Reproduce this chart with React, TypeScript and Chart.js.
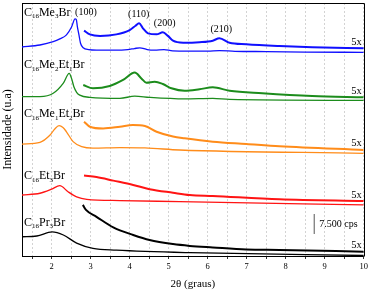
import React, { useEffect, useRef } from "react";
import { Chart, registerables } from "chart.js";

Chart.register(...registerables);

// ---- data (2θ in degrees, intensity in arbitrary stacked units) ----
const me3X = [1.24, 1.7, 2.04, 2.21, 2.38, 2.51, 2.6, 2.63, 2.66, 2.7, 2.74, 2.81, 2.95, 3.15, 3.6, 3.95, 4.12, 4.26, 4.45, 4.64, 4.88, 5.1, 5.5, 6.0, 6.3, 6.7, 7.5, 8.5, 10];
const me3Y = [82.6, 83.4, 84.7, 85.8, 87.4, 90.5, 93.7, 93.5, 90.6, 87.4, 84.1, 82.3, 81.6, 81.4, 81.4, 81.6, 82.0, 82.3, 81.6, 81.4, 81.6, 81.1, 81.0, 81.0, 81.2, 80.9, 80.8, 80.6, 80.5];
const me3X5 = [2.83, 2.98, 3.24, 3.66, 4.0, 4.15, 4.24, 4.34, 4.47, 4.69, 4.85, 4.98, 5.11, 5.37, 5.79, 6.13, 6.3, 6.56, 6.99, 7.84, 8.68, 10];
const me3Y5 = [89.1, 87.6, 87.0, 87.6, 89.3, 91.0, 92.0, 90.0, 88.0, 87.6, 88.4, 87.0, 85.1, 84.3, 84.5, 85.1, 86.1, 84.3, 83.7, 83.0, 82.5, 82.1];

const me2et1X = [1.24, 1.7, 2.04, 2.3, 2.45, 2.51, 2.57, 2.64, 2.72, 2.98, 3.75, 4.13, 4.51, 5.41, 6.13, 6.56, 10];
const me2et1Y = [63.0, 63.0, 64.3, 68.3, 72.2, 70.2, 66.9, 64.7, 63.6, 62.7, 62.3, 63.2, 62.7, 62.1, 62.3, 61.9, 61.5];
const me2et1X5 = [2.81, 3.06, 3.49, 3.83, 4.13, 4.3, 4.43, 4.64, 4.85, 5.07, 5.41, 5.79, 6.13, 6.56, 7.4, 8.68, 10];
const me2et1Y5 = [67.6, 66.3, 67.2, 69.6, 72.5, 70.2, 68.5, 68.9, 68.0, 66.3, 65.3, 65.9, 66.7, 65.3, 64.3, 63.2, 62.7];

const me1et2X = [1.24, 1.7, 1.96, 2.08, 2.19, 2.29, 2.38, 2.55, 2.77, 3.06, 3.75, 4.39, 5.28, 10];
const me1et2Y = [44.2, 44.9, 47.8, 50.2, 51.5, 50.8, 49.1, 45.2, 43.2, 42.6, 42.8, 42.7, 41.9, 40.6];
const me1et2X5 = [2.83, 2.98, 3.32, 3.75, 4.08, 4.39, 4.69, 5.11, 5.41, 6.13, 6.99, 7.84, 10];
const me1et2Y5 = [53.1, 51.1, 50.4, 51.1, 51.8, 51.4, 49.1, 47.2, 46.5, 45.2, 44.3, 43.4, 41.9];

const et3X = [1.24, 1.7, 2.0, 2.21, 2.42, 2.64, 2.9, 3.75, 5.28, 10];
const et3Y = [24.1, 24.8, 26.4, 27.8, 25.4, 23.4, 22.4, 21.9, 21.5, 20.2];
const et3X5 = [2.83, 3.15, 3.58, 4.09, 4.51, 5.11, 5.54, 6.13, 7.84, 10];
const et3Y5 = [31.8, 31.2, 29.8, 28.1, 26.4, 25.0, 24.1, 23.7, 22.4, 21.7];

const pr3X = [1.24, 1.62, 2.01, 2.3, 2.64, 3.06, 3.66, 5.54, 10];
const pr3Y = [7.6, 7.9, 9.5, 8.3, 5.1, 3.0, 2.3, 1.3, 0.2];
const pr3X5 = [2.8, 2.88, 3.15, 3.58, 4.09, 4.51, 5.11, 5.54, 6.13, 6.99, 7.84, 10];
const pr3Y5 = [20.2, 18.2, 15.5, 11.3, 8.3, 6.3, 4.7, 4.0, 3.4, 2.6, 2.4, 1.7];

const scaleBarX = [8.73, 8.73];
const scaleBarY = [8.7, 16.6];

const xTickValues = [1.5, 2, 2.5, 3, 3.5, 4, 4.5, 5, 5.5, 6, 6.5, 7, 7.5, 8, 8.5, 9, 9.5, 10];

// ---- labels ----
type Seg = [string, boolean];
const sampleLabels: { segs: Seg[]; x: number; y: number }[] = [
  { segs: [["C", false], ["16", true], ["Me", false], ["3", true], ["Br", false]], x: 1.29, y: 94.9 },
  { segs: [["C", false], ["16", true], ["Me", false], ["2", true], ["Et", false], ["1", true], ["Br", false]], x: 1.29, y: 74.3 },
  { segs: [["C", false], ["16", true], ["Me", false], ["1", true], ["Et", false], ["2", true], ["Br", false]], x: 1.29, y: 54.9 },
  { segs: [["C", false], ["16", true], ["Et", false], ["3", true], ["Br", false]], x: 1.29, y: 30.4 },
  { segs: [["C", false], ["16", true], ["Pr", false], ["3", true], ["Br", false]], x: 1.29, y: 11.9 },
];
const peakLabels = [
  { text: "(100)", x: 2.6, y: 95.3 },
  { text: "(110)", x: 3.96, y: 94.5 },
  { text: "(200)", x: 4.62, y: 90.9 },
  { text: "(210)", x: 6.07, y: 88.5 },
];
const factorLabelY = [83.4, 64.0, 43.5, 22.9, 3.2];
const factorLabelX = 9.68;

const FONT = "'Liberation Serif', 'DejaVu Serif', serif";

const zip = (xs: number[], ys: number[]) => xs.map((x, i) => ({ x, y: ys[i] }));

const series = [
  { x: me3X, y: me3Y, x5: me3X5, y5: me3Y5, color: "#1010ff" },
  { x: me2et1X, y: me2et1Y, x5: me2et1X5, y5: me2et1Y5, color: "#1c8c1c" },
  { x: me1et2X, y: me1et2Y, x5: me1et2X5, y5: me1et2Y5, color: "#ff8c1a" },
  { x: et3X, y: et3Y, x5: et3X5, y5: et3Y5, color: "#ff1414" },
  { x: pr3X, y: pr3Y, x5: pr3X5, y5: pr3Y5, color: "#000000" },
];

const annotationPlugin = {
  id: "annotations",
  afterDatasetsDraw(chart: any) {
    const { ctx, scales } = chart;
    const xs = scales.x;
    const ys = scales.y;
    ctx.save();
    ctx.fillStyle = "#000";
    ctx.textBaseline = "alphabetic";
    ctx.textAlign = "left";
    for (const lab of sampleLabels) {
      let px = xs.getPixelForValue(lab.x);
      const py = ys.getPixelForValue(lab.y);
      for (const [t, sub] of lab.segs) {
        ctx.font = sub ? `7px ${FONT}` : `12px ${FONT}`;
        ctx.fillText(t, px, sub ? py + 2.5 : py);
        px += ctx.measureText(t).width;
      }
    }
    ctx.font = `10px ${FONT}`;
    for (const p of peakLabels) {
      ctx.fillText(p.text, xs.getPixelForValue(p.x), ys.getPixelForValue(p.y));
    }
    ctx.font = `10.5px ${FONT}`;
    for (const v of factorLabelY) {
      ctx.fillText("5x", xs.getPixelForValue(factorLabelX), ys.getPixelForValue(v));
    }
    ctx.font = `10px ${FONT}`;
    ctx.fillText("7.500 cps", xs.getPixelForValue(8.86), ys.getPixelForValue(11.5));
    const a = chart.chartArea;
    ctx.strokeStyle = "#000";
    ctx.lineWidth = 1;
    ctx.beginPath();
    ctx.moveTo(Math.round(a.left) + 0.5, Math.round(a.top) + 0.5);
    ctx.lineTo(Math.round(a.right) + 0.5, Math.round(a.top) + 0.5);
    ctx.lineTo(Math.round(a.right) + 0.5, Math.round(a.bottom) + 0.5);
    ctx.stroke();
    ctx.restore();
  },
};

export default function App() {
  const ref = useRef<HTMLCanvasElement | null>(null);
  useEffect(() => {
    document.body.style.margin = "0";
    if (!ref.current) return;
    const datasets: any[] = [];
    for (const s of series) {
      datasets.push({
        data: zip(s.x, s.y),
        borderColor: s.color,
        borderWidth: 1.3,
        pointRadius: 0,
        fill: false,
        cubicInterpolationMode: "monotone",
      });
      datasets.push({
        data: zip(s.x5, s.y5),
        borderColor: s.color,
        borderWidth: 2,
        pointRadius: 0,
        fill: false,
        cubicInterpolationMode: "monotone",
      });
    }
    datasets.push({
      data: zip(scaleBarX, scaleBarY),
      borderColor: "#555",
      borderWidth: 1,
      pointRadius: 0,
      fill: false,
    });
    const chart = new Chart(ref.current, {
      type: "line",
      data: { datasets },
      plugins: [annotationPlugin],
      options: {
        animation: false,
        responsive: false,
        maintainAspectRatio: false,
        parsing: false as any,
        layout: { padding: { left: 0, right: 7, top: 3, bottom: 0 } },
        plugins: { legend: { display: false }, tooltip: { enabled: false } },
        scales: {
          x: {
            type: "linear",
            min: 1.24,
            max: 10,
            afterFit: (s: any) => {
              s.height = 40;
            },
            afterBuildTicks: (s: any) => {
              s.ticks = xTickValues.map((v) => ({ value: v }));
            },
            ticks: {
              autoSkip: false,
              maxRotation: 0,
              padding: 3,
              color: "#000",
              font: { family: FONT, size: 8.5 },
              callback: (v: any) => (Number.isInteger(v) ? String(v) : ""),
            },
            grid: {
              color: "#c8c8c8",
              lineWidth: 0.8,
              drawTicks: true,
              tickLength: 3,
              tickColor: "#333",
              tickWidth: 1,
              tickBorderDash: [],
            },
            border: { display: true, color: "#000", width: 1, dash: [2, 2] },
            title: {
              display: true,
              text: "2θ (graus)",
              color: "#000",
              font: { family: FONT, size: 11 },
              padding: { top: 0, bottom: 5 },
            },
          },
          y: {
            type: "linear",
            min: 0,
            max: 100,
            afterFit: (s: any) => {
              s.width = 22;
            },
            ticks: { display: false },
            grid: { display: false },
            border: { display: true, color: "#000", width: 1 },
            title: {
              display: true,
              text: "Intensidade (u.a)",
              color: "#000",
              font: { family: FONT, size: 12 },
              padding: { top: 1, bottom: 0 },
            },
          },
        },
      } as any,
    });
    return () => chart.destroy();
  }, []);
  return (
    <div style={{ width: 371, height: 296 }}>
      <canvas ref={ref} width={371} height={296} style={{ width: 371, height: 296 }} />
    </div>
  );
}
